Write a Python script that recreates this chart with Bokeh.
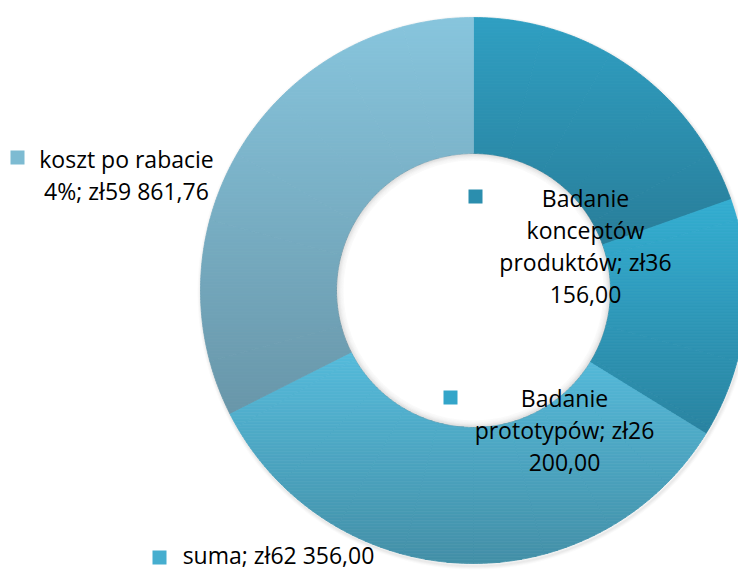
import numpy as np
from bokeh.plotting import figure
from bokeh.models import Range1d
from bokeh.core.properties import value
from bokeh.embed import file_html
from bokeh.resources import INLINE

# ---- data ----
categories = ["Badanie konceptów produktów", "Badanie prototypów", "suma", "koszt po rabacie 4%"]
values = [36156.00, 26200.00, 62356.00, 59861.76]
labels = [
    "Badanie\nkonceptów\nproduktów; zł36\n156,00",
    "Badanie\nprototypów; zł26\n200,00",
    "suma; zł62 356,00",
    "koszt po rabacie\n4%; zł59 861,76",
]
# vertical gradient per slice: (top colour, bottom colour)
color_top = ["#2f9fc2", "#34aed2", "#55bbdb", "#87c5dd"]
color_bottom = ["#287d99", "#2a83a0", "#438fa7", "#6896a9"]
marker_colors = ["#2b8eae", "#33a5c9", "#46aecf", "#7dbbd2"]

# ---- layout (pixel-like coordinates, y measured upward) ----
W, H = 738, 570
p = figure(width=W, height=H, output_backend="svg", toolbar_location=None,
           x_range=Range1d(0, W), y_range=Range1d(0, H),
           min_border=0, outline_line_color=None)
p.axis.visible = False
p.grid.visible = False
p.background_fill_color = "white"
p.border_fill_color = "white"

cx, cy = 473, H - 290
r_out, r_in = 273, 137


def hex2rgb(h):
    h = h.lstrip("#")
    return np.array([int(h[i:i + 2], 16) for i in (0, 2, 4)], dtype=float)


def rgb2hex(c):
    c = np.clip(np.round(c), 0, 255).astype(int)
    return "#%02x%02x%02x" % tuple(c)


def sector(a0, a1):
    n = max(int(np.degrees(a1 - a0) * 2), 4)
    t = np.linspace(a0, a1, n)
    xo, yo = cx + r_out * np.sin(t), cy + r_out * np.cos(t)
    xi, yi = cx + r_in * np.sin(t[::-1]), cy + r_in * np.cos(t[::-1])
    return list(zip(np.concatenate([xo, xi]), np.concatenate([yo, yi])))


def clip_half(poly, yv, keep_above):
    out = []
    if not poly:
        return out

    def inside(pt):
        return pt[1] >= yv if keep_above else pt[1] <= yv
    prev = poly[-1]
    for cur in poly:
        ci, pi = inside(cur), inside(prev)
        if ci:
            if not pi:
                f = (yv - prev[1]) / (cur[1] - prev[1])
                out.append((prev[0] + f * (cur[0] - prev[0]), yv))
            out.append(cur)
        elif pi:
            f = (yv - prev[1]) / (cur[1] - prev[1])
            out.append((prev[0] + f * (cur[0] - prev[0]), yv))
        prev = cur
    return out


vals = np.array(values)
frac = vals / vals.sum()
cum_end = np.cumsum(frac)
cum_start = cum_end - frac

# soft drop shadow under the ring
for i, a in enumerate([0.05, 0.04, 0.03, 0.02]):
    p.annulus(x=cx + 1, y=cy - 2, inner_radius=r_out - 2 + i, outer_radius=r_out + i + 1,
              fill_color="#404040", fill_alpha=a, line_color=None)

xs, ys, fills = [], [], []
band = 3.0
step = np.radians(15)
for k in range(len(values)):
    a0, a1 = 2 * np.pi * cum_start[k], 2 * np.pi * cum_end[k]
    whole = sector(a0, a1)
    ymax = max(pt[1] for pt in whole)
    ymin = min(pt[1] for pt in whole)
    ct, cb = hex2rgb(color_top[k]), hex2rgb(color_bottom[k])
    # split the slice into y-monotone angular pieces (cut at multiples of 15 deg)
    cuts = [a0] + [m * step for m in range(int(np.ceil(a0 / step)), int(np.floor(a1 / step)) + 1)
                   if a0 < m * step < a1] + [a1]
    for s0, s1 in zip(cuts[:-1], cuts[1:]):
        poly = sector(s0, s1)
        pmax = max(pt[1] for pt in poly)
        pmin = min(pt[1] for pt in poly)
        y1 = ymax
        while y1 > pmin:
            y0 = y1 - band
            if y0 < pmax:
                piece = clip_half(clip_half(poly, y0, True), y1, False)
                if len(piece) >= 3:
                    f = (ymax - (y0 + y1) / 2) / (ymax - ymin)
                    xs.append([pt[0] for pt in piece])
                    ys.append([pt[1] for pt in piece])
                    fills.append(rgb2hex(ct + (cb - ct) * min(max(f, 0), 1)))
            y1 = y0

p.patches(xs=xs, ys=ys, fill_color=fills, line_color=fills, line_width=0.8)

# soft inner shadow of the hole
for i, a in enumerate([0.03, 0.05, 0.08, 0.12, 0.17, 0.22]):
    p.annulus(x=cx, y=cy, inner_radius=r_in - 7 + i * 1.2, outer_radius=r_in - 5.8 + i * 1.2,
              fill_color="#606060", fill_alpha=a, line_color=None)

# ---- data labels with legend keys ----
text_x = [585, 564, 278, 126]
text_y_top = [H - 181, H - 381, H - 538, H - 142]
key_x = [475, 450, 159, 17]
key_y = [H - 196, H - 397, H - 557, H - 157]

p.rect(x=key_x, y=key_y, width=14, height=14, width_units="screen", height_units="screen",
       fill_color=marker_colors, line_color=None)

p.text(x=text_x, y=text_y_top, text=labels, text_align="center", text_baseline="top",
       text_font=value("Open Sans"), text_font_size="23px", text_color="#000000",
       text_line_height=1.0)

open("out.html", "w").write(file_html(p, INLINE))
